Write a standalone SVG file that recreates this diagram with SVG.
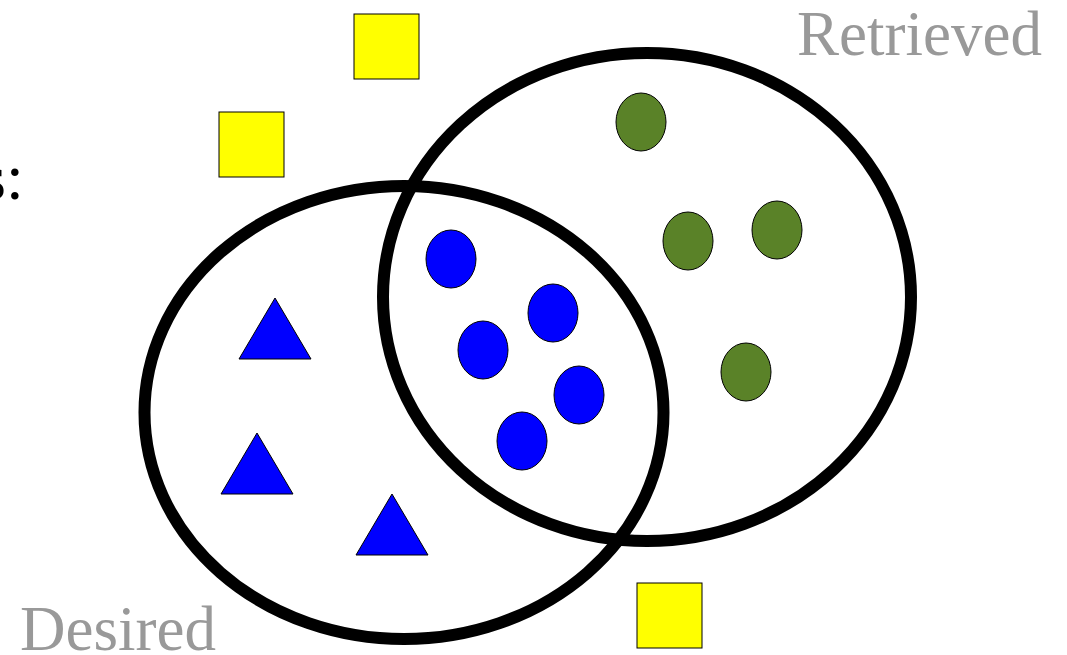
<svg xmlns="http://www.w3.org/2000/svg" width="1067" height="655" viewBox="0 0 1067 655">
<style>
.ring{fill:none;stroke:#000;stroke-width:12}
.sq{fill:#ffff00;stroke:#000;stroke-width:1}
.tri{fill:#0000ff;stroke:#000;stroke-width:1}
.rel{fill:#0000ff;stroke:#000;stroke-width:1}
.irr{fill:#5a8228;stroke:#000;stroke-width:1}
.lbl{font-family:"Liberation Serif",serif;font-size:63px;fill:#999}
.edge{font-family:"Liberation Serif",serif;font-size:64px;fill:#000}
</style>
<rect width="1067" height="655" fill="#fff"/>
<text class="edge" x="-19" y="199">s:</text>
<g id="desired-set"><ellipse class="ring" cx="404" cy="412.5" rx="259.5" ry="226.5"/></g>
<g id="retrieved-set"><ellipse class="ring" cx="647" cy="297" rx="264" ry="244"/></g>
<g id="square1"><rect class="sq" x="354" y="14" width="65" height="65"/></g>
<g id="square2"><rect class="sq" x="219" y="112" width="65" height="65"/></g>
<g id="square3"><rect class="sq" x="637" y="583" width="65" height="65"/></g>
<g id="tri1"><polygon class="tri" points="275,298 311,359 239,359"/></g>
<g id="tri2"><polygon class="tri" points="257,433 293,494 221,494"/></g>
<g id="tri3"><polygon class="tri" points="392,494 428,555 356,555"/></g>
<g id="blue1"><ellipse class="rel" cx="451" cy="259" rx="25" ry="29"/></g>
<g id="blue2"><ellipse class="rel" cx="553" cy="313" rx="25" ry="29"/></g>
<g id="blue3"><ellipse class="rel" cx="483" cy="350" rx="25" ry="29"/></g>
<g id="blue4"><ellipse class="rel" cx="579" cy="395" rx="25" ry="29"/></g>
<g id="blue5"><ellipse class="rel" cx="522" cy="441" rx="25" ry="29"/></g>
<g id="green1"><ellipse class="irr" cx="641" cy="122" rx="25" ry="29"/></g>
<g id="green2"><ellipse class="irr" cx="688" cy="241" rx="25" ry="29"/></g>
<g id="green3"><ellipse class="irr" cx="777" cy="230" rx="25" ry="29"/></g>
<g id="green4"><ellipse class="irr" cx="746" cy="372" rx="25" ry="29"/></g>
<g id="connectors"></g>
<text class="lbl" x="797" y="55">Retrieved</text>
<text class="lbl" x="20" y="650">Desired</text>
</svg>
